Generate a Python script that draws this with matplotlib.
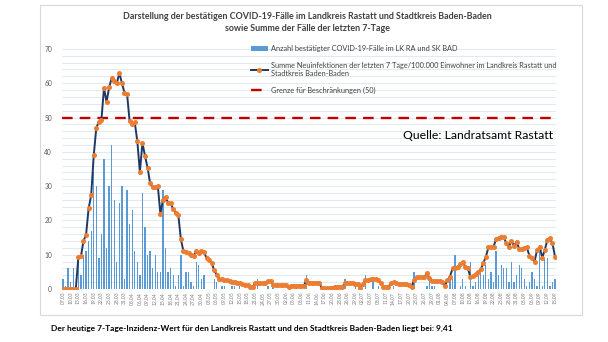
import numpy as np
import pandas as pd
import matplotlib
matplotlib.use("Agg")
import matplotlib.pyplot as plt
from matplotlib.patches import Rectangle

# daily cases LK Rastatt + SK Baden-Baden, from 07.03.2020
cases = [3, 1, 6, 2, 6, 1, 8, 4, 10, 11, 14, 17, 34, 30, 9, 16, 38, 12, 30, 42,
         26, 8, 25, 30, 3, 29, 19, 23, 11, 8, 4, 28, 18, 10, 11, 6, 10, 5, 5, 29,
         12, 5, 6, 4, 1, 4, 10, 1, 5, 5, 2, 1, 8, 7, 3, 4, 0, 0, 0, 3,
         2, 0, 1, 1, 0, 0, 1, 1, 0, 1, 0, 0, 0, 0, 0, 0, 3, 0, 0, 0,
         1, 0, 1, 0, 0, 0, 0, 0, 0, 0, 0, 0, 0, 0, 0, 4, 0, 0, 0, 0,
         0, 0, 0, 0, 0, 0, 0, 0, 0, 0, 3, 0, 0, 0, 2, 0, 0, 0, 4, 0,
         0, 2, 0, 1, 0, 0, 0, 0, 0, 1, 0, 0, 0, 0, 0, 0, 0, 5, 0, 0,
         0, 0, 1, 3, 1, 1, 0, 0, 0, 0, 0, 4, 3, 10, 0, 1, 3, 1, 0, 8,
         1, 2, 4, 5, 4, 7, 3, 5, 2, 11, 4, 7, 6, 6, 2, 8, 2, 4, 7, 6,
         3, 1, 2, 5, 3, 1, 12, 1, 9, 9, 1, 2, 3]

# 7-day incidence per 100,000
incidence = [0, 0, 0, 0, 0, 0, 9.3, 9.5, 14, 15.8, 23.5, 27.3, 39, 47, 48.7, 49.4,
             58.6, 54.5, 58.8, 61.5, 60.6, 60, 63, 60, 57.2, 56.9, 48.9, 48, 48.6,
             43.1, 34.1, 42.6, 38.8, 35.4, 30.8, 29.6, 29.7, 30, 22, 26, 26.8, 25.2,
             25, 23.3, 22.1, 21.6, 14.5, 11, 10.9, 10.4, 9.9, 9.7, 11.1, 10.4, 11.1,
             10.9, 9.0, 8.4, 7.5, 5.5, 4.1, 2.8, 2.8, 2.7, 2.6, 2.4, 2.0, 2.0, 1.85,
             1.7, 1.4, 1.2, 1.1, 0.7, 0.7, 1.7, 1.7, 1.7, 1.7, 1.7, 2.2, 2.2, 1.2,
             1.2, 1.2, 1.2, 1.2, 1.2, 0.5, 1.0, 1.0, 1.0, 1.0, 1.0, 1.0, 2.6, 1.85,
             1.85, 1.85, 1.85, 1.85, 0.2, 0.2, 0.2, 0.2, 0.2, 0.7, 0.7, 0.7, 0.7,
             1.7, 1.7, 1.7, 1.7, 1.4, 1.4, 0.3, 1.4, 2.6, 2.6, 2.8, 2.8, 2.8, 2.6,
             1.65, 0.7, 0.7, 0.7, 1.65, 1.9, 1.65, 1.45, 1.45, 1.45, 1.45, 1.2, 0.7,
             2.6, 3.4, 3.4, 3.4, 3.4, 4.6, 3.1, 2.4, 2.4, 2.3, 2.2, 2.1, 0.9, 2.6,
             3.6, 6.0, 6.2, 6.5, 7.2, 7.8, 6.5, 6.0, 3.4, 3.9, 4.3, 4.9, 5.7, 7.5,
             9.4, 12.1, 12.1, 12.35, 14.5, 15.0, 15.3, 15.1, 13.3, 12.35, 14.0, 12.6,
             13.8, 11.7, 11.7, 11.9, 12.1, 9.7, 9.1, 8.0, 11.4, 12.35, 9.1, 11.4,
             14.3, 14.8, 13.3, 9.41]

limit = 50
start_date = "2020-03-07"

dates = pd.date_range(start_date, periods=len(incidence)).strftime("%d.%m")
x = np.arange(len(incidence))

plt.rcParams['font.family'] = ['Lato', 'DejaVu Sans']

fig = plt.figure(figsize=(6.08, 3.42), dpi=100)
fig.patches.append(Rectangle((40 / 608, 1 - 315 / 342), 542 / 608, 310 / 342,
                             transform=fig.transFigure, fill=False,
                             edgecolor='#d9d9d9', linewidth=0.8))
ax = fig.add_axes([0.1015, 0.155, 0.8135, 0.702])

bars = ax.bar(x, cases[:len(x)], width=0.5, color='#5B9BD5', zorder=2,
              label='Anzahl bestätigter COVID-19-Fälle im LK RA und SK BAD')
line, = ax.plot(x, incidence, color='#1F3864', linewidth=1.4, marker='o',
                markersize=2.6, markerfacecolor='#ED7D31', markeredgecolor='#ED7D31',
                zorder=4,
                label='Summe Neuinfektionen der letzten 7 Tage/100.000 Einwohner im Landkreis Rastatt und\nStadtkreis Baden-Baden')
ref = ax.axhline(limit, color='#C00000', linewidth=1.7, dashes=(4.5, 3), zorder=3,
                 label='Grenze für Beschränkungen (50)')

ax.set_xlim(-0.5, len(x) - 0.5)
ax.set_ylim(0, 70)
ax.set_yticks(np.arange(0, 71, 10))
ax.set_yticks(np.arange(0, 71, 2), minor=True)
ax.set_xticks(x[::3])
ax.set_xticklabels(dates[::3], rotation=90, fontsize=3.6, color='#7f7f7f')
ax.tick_params(axis='y', labelsize=4.8, labelcolor='#595959', length=0, pad=7)
ax.tick_params(axis='y', which='minor', length=0)
ax.tick_params(axis='x', length=0, pad=2)
ax.grid(axis='y', which='both', color='#dce6f1', linewidth=0.6, zorder=0)
for s in ax.spines.values():
    s.set_visible(False)

leg = ax.legend(handles=[bars, line, ref], loc='upper left',
                bbox_to_anchor=(0.37, 1.043), frameon=False, fontsize=5.3,
                labelcolor='#404040', handlelength=2.2, handletextpad=0.5,
                labelspacing=1.3)

fig.text(0.505, 0.951, 'Darstellung der bestätigen COVID-19-Fälle im Landkreis Rastatt und Stadtkreis Baden-Baden',
         ha='center', va='center', fontsize=6.4, fontweight='bold', color='#404040')
fig.text(0.505, 0.916, 'sowie Summe der Fälle der letzten 7-Tage',
         ha='center', va='center', fontsize=6.4, fontweight='bold', color='#404040')
fig.text(0.663, 0.605, 'Quelle: Landratsamt Rastatt', ha='left', va='center',
         fontsize=8.8, color='black')
fig.text(0.084, 0.041, 'Der heutige 7-Tage-Inzidenz-Wert für den Landkreis Rastatt und den Stadtkreis Baden-Baden liegt bei: 9,41',
         ha='left', va='center', fontsize=6.05, fontweight='bold', color='black')

fig.savefig('out.png', dpi=100)
